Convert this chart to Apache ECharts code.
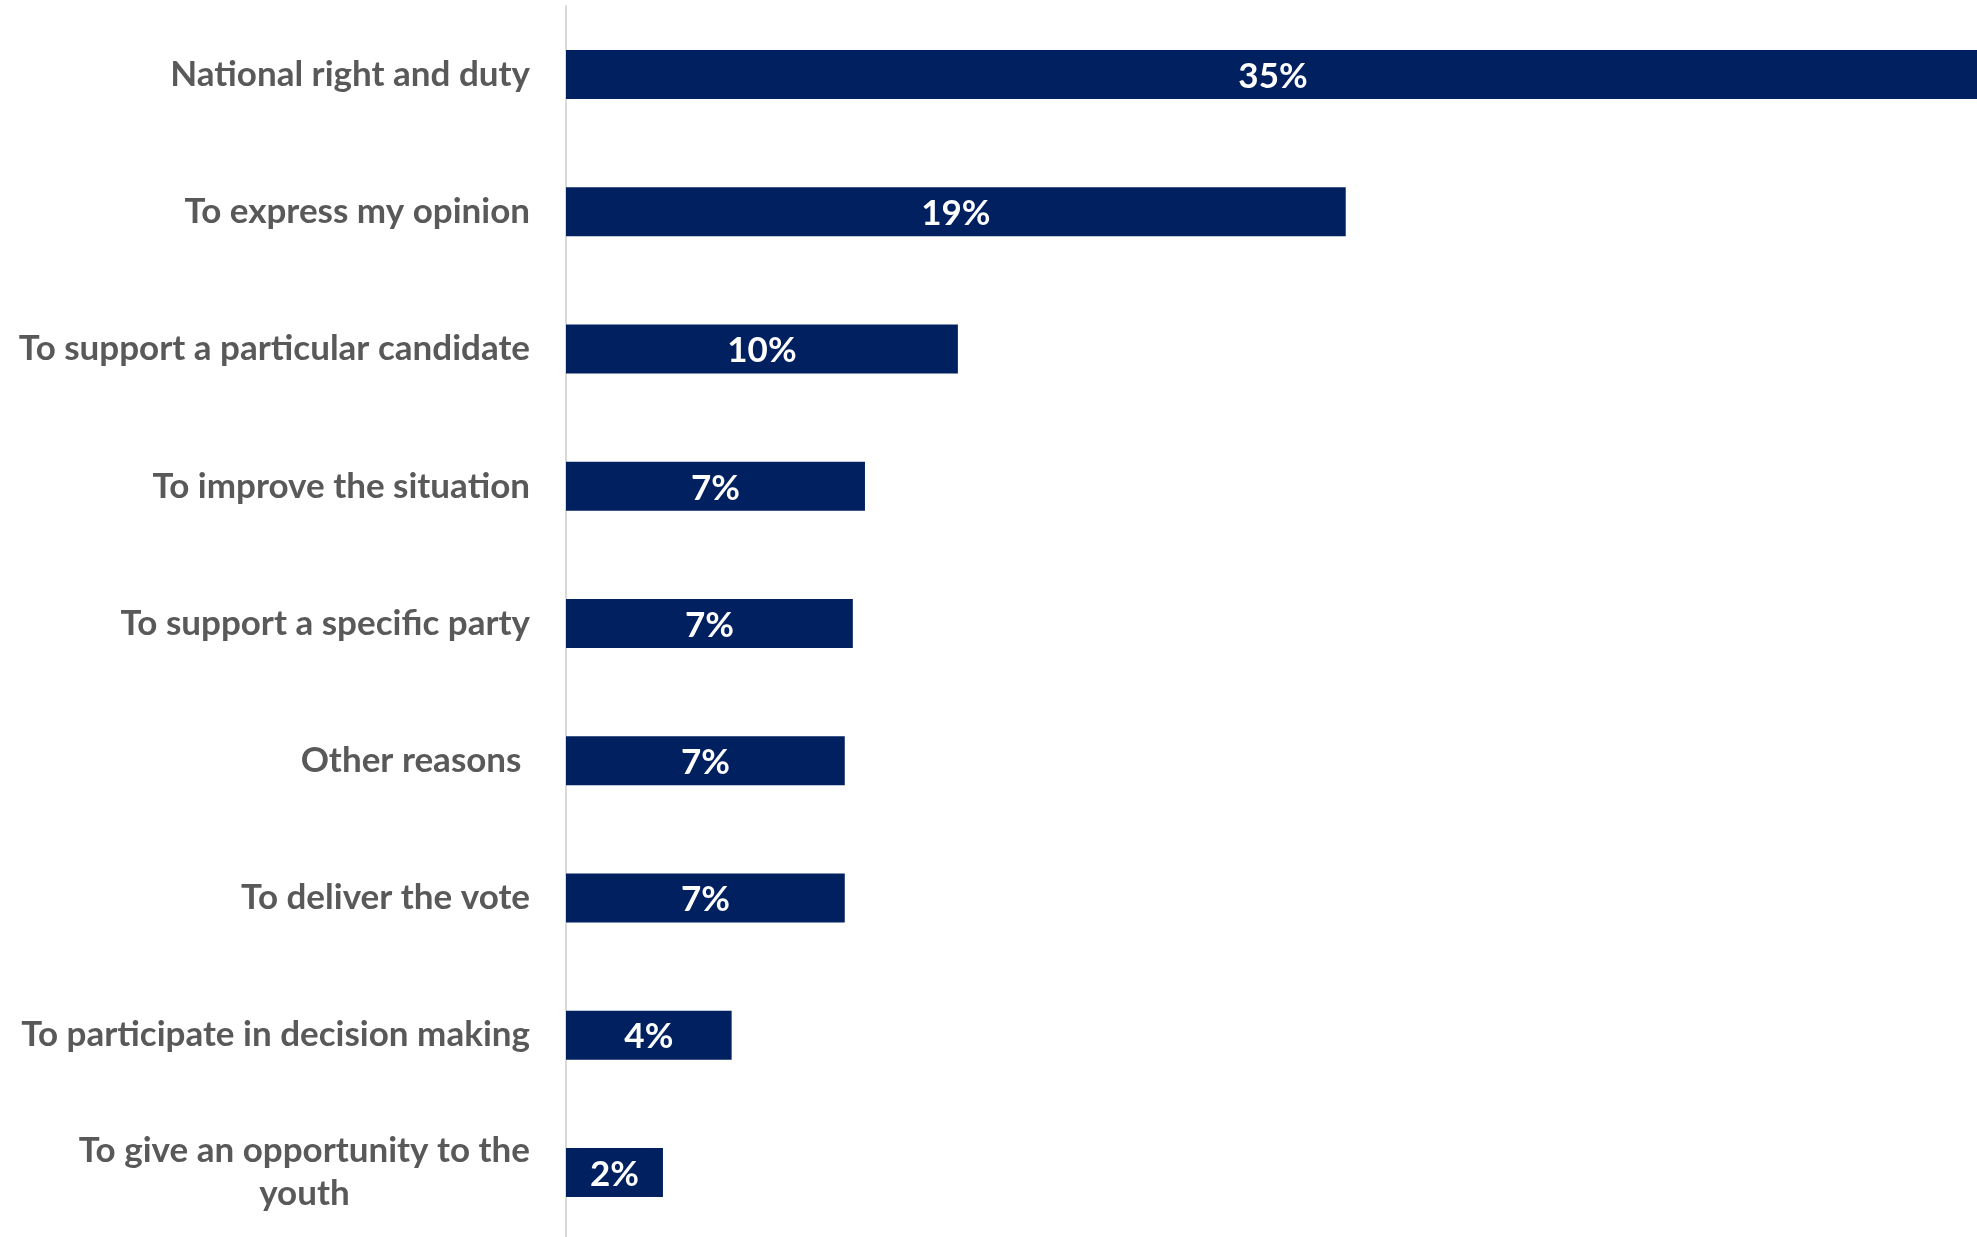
<!DOCTYPE html>
<html>
<head>
<meta charset="utf-8">
<script src="https://cdn.jsdelivr.net/npm/echarts@6/dist/echarts.min.js"></script>
<style>
  html, body { margin: 0; padding: 0; background: #fff; }
  #chart { width: 1977px; height: 1237px; }
</style>
</head>
<body>
<div id="chart"></div>
<script>
// categories, top to bottom
const reasons = [
  'National right and duty',
  'To express my opinion',
  'To support a particular candidate',
  'To improve the situation',
  'To support a specific party',
  'Other reasons ',
  'To deliver the vote',
  'To participate in decision making',
  'To give an opportunity to the\nyouth'
]
// share of respondents, %
const shares = [35, 19.3, 9.7, 7.4, 7.1, 6.9, 6.9, 4.1, 2.4]

const chart = echarts.init(document.getElementById('chart'))
const option = {
  animation: false,
  grid: {
    left: 566,
    width: 1414,
    top: 6,
    height: 1235,
    outerBoundsMode: 'none'
  },
  xAxis: {
    type: 'value',
    min: 0,
    max: 35,
    show: false
  },
  yAxis: {
    type: 'category',
    inverse: true,
    data: reasons,
    axisLine: { show: true, lineStyle: { color: '#d9d9d9', width: 2 } },
    axisTick: { show: false },
    axisLabel: {
      margin: 36,
      color: '#595959',
      fontFamily: 'Lato',
      fontWeight: 'bold',
      fontSize: 35,
      lineHeight: 43,
      formatter: v => v.split('\n').map(s => '{c|' + s + '}').join('\n'),
      rich: {
        c: {
          align: 'center',
          color: '#595959',
          fontFamily: 'Lato',
          fontWeight: 'bold',
          fontSize: 35,
          lineHeight: 43
        }
      }
    }
  },
  series: [{
    type: 'bar',
    data: shares,
    barWidth: 49,
    itemStyle: { color: '#002060' },
    label: {
      show: true,
      position: 'inside',
      offset: [0, 2],
      color: '#fff',
      fontFamily: 'Lato',
      fontWeight: 'bold',
      fontSize: 35,
      formatter: p => Math.round(p.value) + '%'
    }
  }]
}
chart.setOption(option)
window.addEventListener('resize', () => chart.resize())
</script>
</body>
</html>
